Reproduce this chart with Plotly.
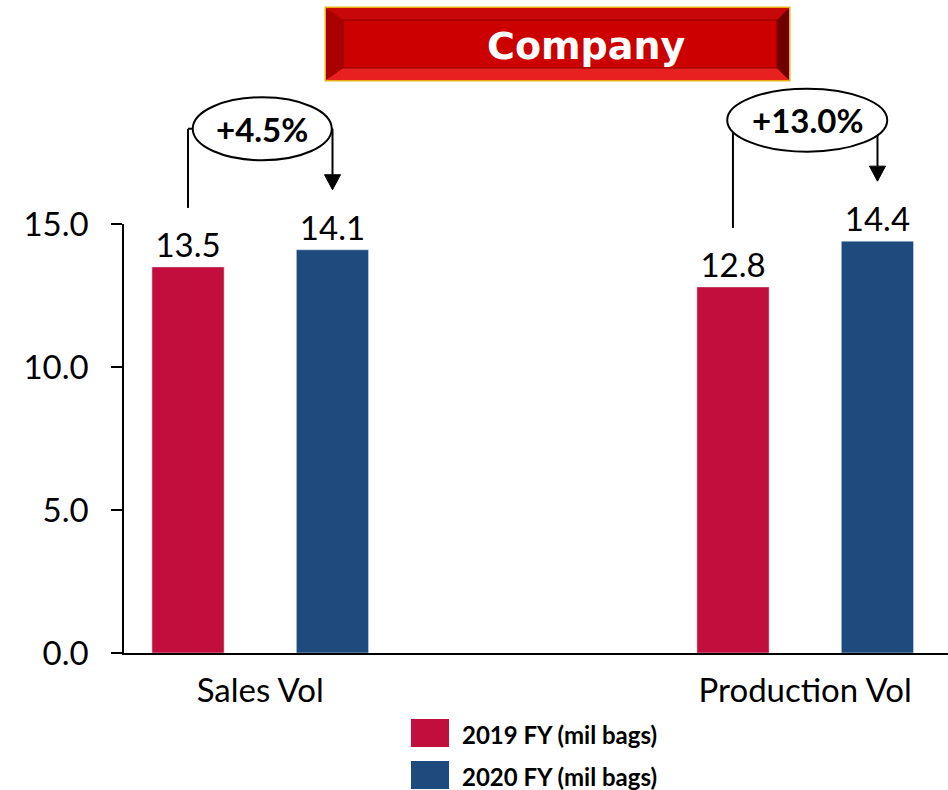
import math
import plotly.graph_objects as go

# ---- data ----
categories = ["Sales Vol", "Production Vol"]
series_names = ["2019 FY (mil bags)", "2020 FY (mil bags)"]
values_2019 = [13.5, 12.8]
values_2020 = [14.1, 14.4]
change_labels = ["+4.5%", "+13.0%"]
y_ticks = [0, 5, 10, 15]

# ---- styling / layout constants ----
colors = ["#C20E3D", "#1F4A7D"]
FONT = "Lato"
W, H = 948, 790
ML, MR, MT, MB = 124, 0, 224, 137
PW, PH = W - ML - MR, H - MT - MB
X_RANGE = [-0.25, 1.262]
Y_RANGE = [0, 15]
BAR_OFF = 0.1326           # half the distance between the two bars of a group
ellipse_w = [139, 160]     # pixel widths of the change bubbles
ELL_H = 63

def xp(xd):  # data x -> paper
    return (xd - X_RANGE[0]) / (X_RANGE[1] - X_RANGE[0])

def yp(v, dpx=0):  # data y (+ pixel offset upward) -> paper
    return (v - Y_RANGE[0]) / (Y_RANGE[1] - Y_RANGE[0]) + dpx / PH

def dxp(px):
    return px / PW

def dyp(px):
    return px / PH

fig = go.Figure()
for name, vals, col in zip(series_names, [values_2019, values_2020], colors):
    fig.add_trace(go.Bar(
        x=list(range(len(categories))), y=vals, name=name, marker_color=col,
        text=[f"{v:.1f}" for v in vals], textposition="outside",
        textfont=dict(family=FONT, size=33, color="black"),
        cliponaxis=False, showlegend=False,
    ))

shapes = []
annotations = []
LINE = dict(color="black", width=2)

for i, lab in enumerate(change_labels):
    v0, v1 = values_2019[i], values_2020[i]
    ecx = xp(i) + dxp(2)
    ecy = yp(max(v0, v1), 121)
    a = dxp(ellipse_w[i] / 2)
    b = dyp(ELL_H / 2)
    shapes.append(dict(type="circle", xref="paper", yref="paper",
                       x0=ecx - a, x1=ecx + a, y0=ecy - b, y1=ecy + b,
                       line=LINE, fillcolor="white"))
    annotations.append(dict(xref="paper", yref="paper", x=ecx, y=ecy,
                            xanchor="center", yanchor="middle", text=f"<b>{lab}</b>",
                            showarrow=False, font=dict(family=FONT, size=33, color="black")))
    for xd, v, arrow in [(i - BAR_OFF, v0, False), (i + BAR_OFF, v1, True)]:
        x = xp(xd)
        a_px = ellipse_w[i] / 2
        dx_px = abs(x - ecx) * PW
        if dx_px < a_px:
            top = ecy - b * math.sqrt(1 - (dx_px / a_px) ** 2)
            horiz = None
        else:
            top = ecy
            horiz = ecx - a if x < ecx else ecx + a
        bottom = yp(v, 60 if arrow else 59)
        if arrow:
            base = bottom + dyp(15)
            shapes.append(dict(type="line", xref="paper", yref="paper",
                               x0=x, x1=x, y0=top, y1=base, line=LINE))
            shapes.append(dict(type="path", xref="paper", yref="paper",
                               path=f"M {x - dxp(8)} {base} L {x + dxp(8)} {base} L {x} {bottom} Z",
                               fillcolor="black", line=dict(color="black", width=1)))
        else:
            shapes.append(dict(type="line", xref="paper", yref="paper",
                               x0=x, x1=x, y0=top, y1=bottom, line=LINE))
        if horiz is not None:
            shapes.append(dict(type="line", xref="paper", yref="paper",
                               x0=x, x1=horiz, y0=ecy, y1=ecy, line=LINE))

# ---- title banner (bevelled red box) ----
def px2paper(px, py):
    return (px - ML) / PW, (H - MB - py) / PH

def P(px, py):
    x, y = px2paper(px, py)
    return f"{x} {y}"

bx0, by0, bx1, by1 = 326, 8, 789, 80
ix0, iy0, ix1, iy1 = 343, 20, 777, 68
X0, Y0 = px2paper(bx0, by0)
X1, Y1 = px2paper(bx1, by1)
shapes.append(dict(type="rect", xref="paper", yref="paper", x0=X0, x1=X1, y0=Y1, y1=Y0,
                   fillcolor="#B00000", line=dict(color="#E8B018", width=3)))
bevels = [
    ([(bx0, by0), (bx1, by0), (ix1, iy0), (ix0, iy0)], "#C80808"),
    ([(bx0, by1), (bx1, by1), (ix1, iy1), (ix0, iy1)], "#E82020"),
    ([(bx0, by0), (ix0, iy0), (ix0, iy1), (bx0, by1)], "#A80000"),
    ([(bx1, by0), (ix1, iy0), (ix1, iy1), (bx1, by1)], "#700000"),
]
for pts, col in bevels:
    path = "M " + " L ".join(P(*p) for p in pts) + " Z"
    shapes.append(dict(type="path", xref="paper", yref="paper", path=path,
                       fillcolor=col, line=dict(width=0)))
IX0, IY0 = px2paper(ix0, iy0)
IX1, IY1 = px2paper(ix1, iy1)
shapes.append(dict(type="rect", xref="paper", yref="paper", x0=IX0, x1=IX1, y0=IY1, y1=IY0,
                   fillcolor="#CC0000", line=dict(color="#8A0000", width=1)))
tx, ty = px2paper(586, 46)
annotations.append(dict(xref="paper", yref="paper", x=tx, y=ty, xanchor="center", yanchor="middle",
                        text="<b>Company</b>", showarrow=False,
                        font=dict(family="DejaVu Sans", size=38, color="white")))

# ---- legend (custom, large swatches) ----
for k, (name, col) in enumerate(zip(series_names, colors)):
    top = 719 + k * 42
    sx0, sy0 = px2paper(411, top)
    sx1, sy1 = px2paper(449, top + 28)
    shapes.append(dict(type="rect", xref="paper", yref="paper", x0=sx0, x1=sx1, y0=sy1, y1=sy0,
                       fillcolor=col, line=dict(width=0)))
    lx, ly = px2paper(460, top + 15)
    annotations.append(dict(xref="paper", yref="paper", x=lx, y=ly, xanchor="left", yanchor="middle",
                            text=f"<b>{name}</b>", showarrow=False,
                            font=dict(family=FONT, size=24, color="black")))

fig.update_layout(
    width=W, height=H,
    margin=dict(l=ML, r=MR, t=MT, b=MB, pad=0),
    paper_bgcolor="white", plot_bgcolor="white",
    barmode="group", bargap=0.47, bargroupgap=0.5,
    showlegend=False,
    shapes=shapes, annotations=annotations,
    xaxis=dict(range=X_RANGE, tickmode="array", tickvals=list(range(len(categories))),
               ticktext=categories, showline=True, linecolor="black", linewidth=1.5,
               ticks="", showgrid=False, zeroline=False, ticklabelstandoff=8,
               tickfont=dict(family=FONT, size=33, color="black")),
    yaxis=dict(range=Y_RANGE, tickvals=y_ticks, tickformat=".1f", showline=True,
               linecolor="black", linewidth=1.5, ticks="outside", ticklen=11,
               tickcolor="black", tickwidth=1.5, showgrid=False, zeroline=False,
               ticklabelstandoff=16, tickfont=dict(family=FONT, size=33, color="black")),
)

fig.write_html("out.html", config={"displayModeBar": False},
               post_script="document.body.style.margin='0';document.body.style.overflow='hidden';")
